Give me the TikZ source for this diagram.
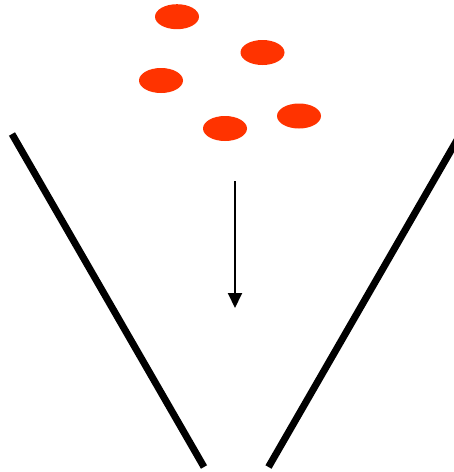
\documentclass[tikz,border=0pt]{standalone}
\usetikzlibrary{arrows.meta,shapes.geometric}
\definecolor{dotred}{HTML}{FF3300}
\tikzset{
  particle/.style={ellipse,fill=dotred,draw=none,minimum width=44pt,minimum height=25pt,inner sep=0pt},
  wall/.style={line width=7pt,line cap=butt,black},
  flow/.style={line width=2pt,-{Triangle[width=14pt,length=15pt]}}
}
\begin{document}
\begin{tikzpicture}[x=1pt,y=-1pt]
\useasboundingbox (0,0) rectangle (454,472);
\clip (0,0) rectangle (454,472);
\fill[white] (0,0) rectangle (454,472);
\node[particle] (p1) at (177,16.7) {};
\node[particle] (p2) at (262.5,52.5) {};
\node[particle] (p3) at (161,80.5) {};
\node[particle] (p4) at (225,128.5) {};
\node[particle] (p5) at (299,116) {};
\coordinate (lt) at (12,134);
\coordinate (lb) at (204,467);
\coordinate (rb) at (268.5,467);
\coordinate (rt) at (460.5,134);
\draw[wall] (lt) -- (lb);
\draw[wall] (rb) -- (rt);
\coordinate (as) at (235,181);
\coordinate (ae) at (235,308);
\draw[flow] (as) -- (ae);
\end{tikzpicture}
\end{document}
